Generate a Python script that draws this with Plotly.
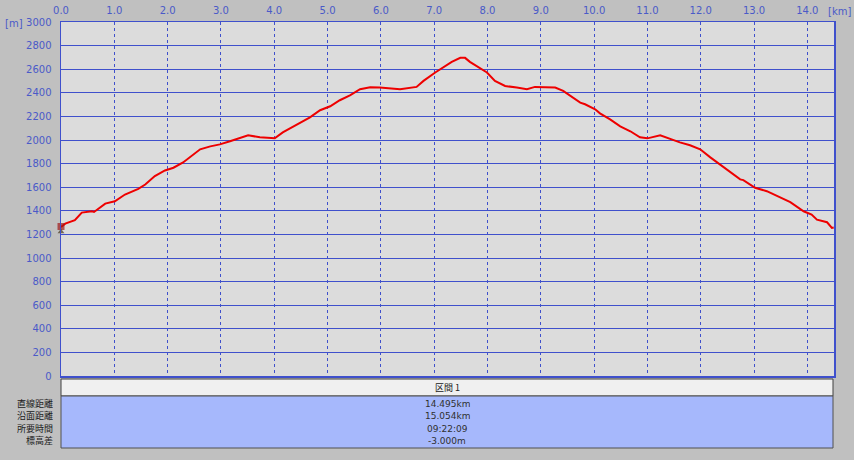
import plotly.graph_objects as go

# ---- data ----
dist_km = [0.00, 0.04, 0.08, 0.26, 0.39, 0.58, 0.62, 0.83, 1.01, 1.20, 1.45, 1.58,
           1.76, 1.95, 2.11, 2.29, 2.42, 2.61, 2.80, 2.98, 3.17, 3.36, 3.51, 3.73,
           4.01, 4.16, 4.39, 4.67, 4.86, 5.05, 5.23, 5.42, 5.61, 5.80, 5.98, 6.36,
           6.67, 6.80, 7.02, 7.17, 7.33, 7.49, 7.58, 7.67, 7.83, 7.99, 8.14, 8.33,
           8.55, 8.74, 8.89, 9.11, 9.27, 9.42, 9.55, 9.74, 9.83, 10.02, 10.11, 10.30,
           10.49, 10.68, 10.86, 11.00, 11.24, 11.43, 11.61, 11.80, 11.99, 12.18, 12.36,
           12.55, 12.74, 12.80, 13.02, 13.24, 13.49, 13.68, 13.93, 14.08, 14.18, 14.37,
           14.46, 14.495]
elev_m = [1262, 1275, 1291, 1320, 1385, 1396, 1390, 1461, 1481, 1538, 1586, 1623,
          1694, 1742, 1765, 1810, 1853, 1921, 1946, 1963, 1989, 2014, 2040, 2023,
          2014, 2065, 2125, 2192, 2252, 2286, 2337, 2379, 2430, 2447, 2444, 2430,
          2450, 2501, 2572, 2614, 2662, 2696, 2696, 2662, 2614, 2572, 2501, 2458,
          2444, 2430, 2450, 2444, 2444, 2416, 2374, 2317, 2303, 2260, 2226, 2175,
          2116, 2074, 2023, 2014, 2040, 2006, 1980, 1955, 1921, 1853, 1793,
          1734, 1666, 1660, 1595, 1566, 1510, 1473, 1396, 1368, 1325, 1303,
          1255, 1259]

x_tick_vals = [0, 1, 2, 3, 4, 5, 6, 7, 8, 9, 10, 11, 12, 13, 14]
x_tick_text = ["0.0", "1.0", "2.0", "3.0", "4.0", "5.0", "6.0", "7.0", "8.0",
               "9.0", "10.0", "11.0", "12.0", "13.0", "14.0"]
y_tick_vals = list(range(0, 3001, 200))

section_title = "区間 1"
row_labels = ["直線距離", "沿面距離", "所要時間", "標高差"]
row_values = ["14.495km", "15.054km", "09:22:09", "-3.000m"]

W, H = 854, 460
L, R, T, B = 61, 20, 22, 84
blue = "#3f50cc"
tick_col = "#4a5ac8"

fig = go.Figure()
fig.add_trace(go.Scatter(x=dist_km, y=elev_m, mode="lines",
                         line=dict(color="#ee0000", width=2),
                         hoverinfo="skip", showlegend=False))
# start marker (hiker icon stand-in)
fig.add_trace(go.Scatter(x=[dist_km[0], dist_km[0]], y=[elev_m[0] + 5, elev_m[0] - 40],
                         mode="markers",
                         marker=dict(symbol=["square", "triangle-up"], size=[7, 6],
                                     color=["#a01818", "#4a3a20"],
                                     line=dict(width=0)),
                         hoverinfo="skip", showlegend=False, cliponaxis=False))

fig.update_layout(
    width=W, height=H,
    margin=dict(l=L, r=R, t=T, b=B, autoexpand=False),
    paper_bgcolor="#c0c0c0",
    plot_bgcolor="#dcdcdc",
    font=dict(family="DejaVu Sans", size=10, color=tick_col),
    xaxis=dict(range=[0, 14.5], side="top", tickvals=x_tick_vals, ticktext=x_tick_text,
               showgrid=True, gridcolor=blue, gridwidth=1, griddash="dot",
               zeroline=False, showline=True, linecolor=blue, linewidth=1.5, mirror=True,
               automargin=False,
               ticks="", ticklabelstandoff=3, tickfont=dict(size=10, color=tick_col)),
    yaxis=dict(range=[0, 3000], tickvals=y_tick_vals,
               showgrid=True, gridcolor=blue, gridwidth=1, automargin=False,
               zeroline=False, showline=True, linecolor=blue, linewidth=1.5, mirror=True,
               ticks="", ticklabelstandoff=6, tickfont=dict(size=10, color=tick_col)),
)

def py(p):  # pixel y -> paper y
    return (H - B - p) / (H - T - B)

def px(p):  # pixel x -> paper x
    return (p - L) / (W - L - R)

shapes = []
# header row
shapes.append(dict(type="rect", xref="paper", yref="paper",
                   x0=px(61), x1=px(833), y0=py(396), y1=py(379),
                   fillcolor="#f0f0f0", line=dict(color="#404040", width=1), layer="above"))
# data rows
shapes.append(dict(type="rect", xref="paper", yref="paper",
                   x0=px(61), x1=px(833), y0=py(448), y1=py(396),
                   fillcolor="#a6b8fc", line=dict(color="#505050", width=1), layer="above"))
fig.update_layout(shapes=shapes)

ann = []
jp = "Noto Sans CJK JP"
ann.append(dict(xref="paper", yref="paper", x=px(447), y=py(387), text=section_title,
                showarrow=False, font=dict(family=jp, size=9, color="#202020"),
                xanchor="center", yanchor="middle"))
row_y = [403, 415.5, 428, 440.5]
for lab, val, yy in zip(row_labels, row_values, row_y):
    ann.append(dict(xref="paper", yref="paper", x=px(54), y=py(yy), text=lab,
                    showarrow=False, font=dict(family=jp, size=9, color="#202020"),
                    xanchor="right", yanchor="middle", height=11, borderpad=0))
    ann.append(dict(xref="paper", yref="paper", x=px(447), y=py(yy), text=val,
                    showarrow=False, font=dict(family="DejaVu Sans", size=9, color="#303030"),
                    xanchor="center", yanchor="middle", height=11, borderpad=0))
ann.append(dict(xref="paper", yref="paper", x=px(3), y=py(24), text="[m]",
                showarrow=False, font=dict(size=10, color=tick_col),
                xanchor="left", yanchor="middle"))
ann.append(dict(xref="paper", yref="paper", x=px(853), y=py(12), text="[km]",
                showarrow=False, font=dict(size=10, color=tick_col),
                xanchor="right", yanchor="middle"))
fig.update_layout(annotations=ann)

fig.write_html("out.html",
               config={"displayModeBar": False, "staticPlot": True},
               post_script="document.body.style.margin='0';"
                           "document.body.style.background='#c0c0c0';")
